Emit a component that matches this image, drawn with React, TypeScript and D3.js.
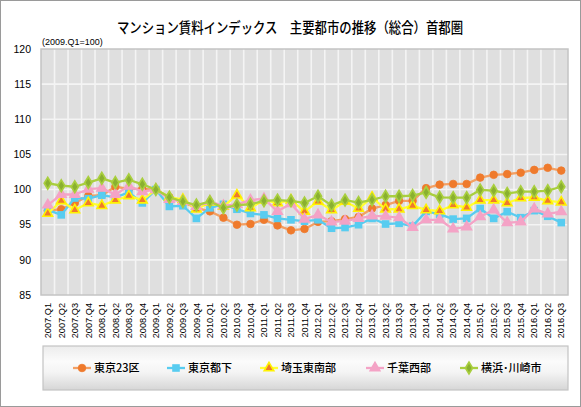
import React from "react";
import * as d3 from "d3";

const categories = [
  "2007.Q1","2007.Q2","2007.Q3","2007.Q4","2008.Q1","2008.Q2","2008.Q3","2008.Q4",
  "2009.Q1","2009.Q2","2009.Q3","2009.Q4","2010.Q1","2010.Q2","2010.Q3","2010.Q4",
  "2011.Q1","2011.Q2","2011.Q3","2011.Q4","2012.Q1","2012.Q2","2012.Q3","2012.Q4",
  "2013.Q1","2013.Q2","2013.Q3","2013.Q4","2014.Q1","2014.Q2","2014.Q3","2014.Q4",
  "2015.Q1","2015.Q2","2015.Q3","2015.Q4","2016.Q1","2016.Q2","2016.Q3",
];

const tokyo23 = [97.0,97.2,98.1,99.1,99.2,100.4,100.1,100.1,100.0,98.9,98.2,97.4,96.9,96.0,95.0,95.1,95.7,94.9,94.2,94.4,95.4,95.5,95.8,96.1,97.3,97.8,98.4,98.4,100.2,100.7,100.8,100.8,101.7,102.1,102.2,102.4,102.8,103.1,102.7];
const tokyoSuburbs = [97.1,96.4,98.8,98.7,99.2,98.9,99.6,98.1,100.0,97.6,97.7,95.9,97.4,97.9,97.2,96.6,96.4,95.9,95.7,95.5,95.7,94.5,94.6,95.0,95.9,95.1,95.2,94.8,96.9,96.5,95.8,95.9,97.3,95.9,96.85,96.0,97.0,96.2,95.3];
const saitama = [96.6,98.4,97.1,98.1,97.7,98.5,99.1,98.5,100.0,98.9,98.6,97.2,98.2,97.6,99.2,97.4,98.5,98.1,98.5,96.9,98.3,97.1,98.3,97.3,98.9,97.2,97.2,97.7,97.1,96.95,97.8,97.45,98.5,98.5,98.1,98.8,98.9,98.4,98.2];
const chiba = [97.8,99.3,99.3,100.05,100.2,99.3,100.5,99.7,100.0,98.6,98.3,97.6,98.3,97.7,97.9,98.5,98.7,96.9,98.0,95.8,96.4,95.4,95.5,95.9,96.25,96.2,96.0,94.6,95.7,95.7,94.4,94.7,96.15,97.1,95.3,95.4,97.25,96.55,96.85];
const yokohama = [100.9,100.55,100.4,101.0,101.6,101.0,101.4,100.75,100.0,98.9,98.3,97.8,98.3,97.4,97.8,97.9,98.4,98.5,98.4,98.1,99.05,97.75,98.5,98.15,98.55,99.05,99.05,99.15,99.6,98.9,98.85,98.85,99.95,99.85,99.45,99.7,99.7,99.85,100.4];

const yTicks = [85, 90, 95, 100, 105, 110, 115, 120];

const seriesNames = ["東京23区", "東京都下", "埼玉東南部", "千葉西部", "横浜･川崎市"];

type Series = {
  name: string;
  values: number[];
  line: string;
  fill: string;
  stroke: string;
  marker: "circle" | "square" | "triangle" | "diamond";
};

const series: Series[] = [
  { name: seriesNames[0], values: tokyo23, line: "#F3A064", fill: "#EF7A2C", stroke: "#EF7A2C", marker: "circle" },
  { name: seriesNames[1], values: tokyoSuburbs, line: "#58CCF0", fill: "#58CCF0", stroke: "#58CCF0", marker: "square" },
  { name: seriesNames[2], values: saitama, line: "#FFFF33", fill: "#EF7A2C", stroke: "#FFF200", marker: "triangle" },
  { name: seriesNames[3], values: chiba, line: "#F4A3C6", fill: "#F4A3C6", stroke: "#F4A3C6", marker: "triangle" },
  { name: seriesNames[4], values: yokohama, line: "#A9CF3E", fill: "#8AB030", stroke: "#A9CF3E", marker: "diamond" },
];

const legendX = [73, 167, 260, 366, 460];

const W = 581, H = 407;
const plot = { left: 41, right: 568, top: 49, bottom: 295 };

const x = d3.scaleBand<string>().domain(categories).range([plot.left, plot.right]).padding(0);
const y = d3.scaleLinear().domain([85, 120]).range([plot.bottom, plot.top]);
const cx = (c: string) => (x(c) as number) + x.bandwidth() / 2;

function Marker({ s, px, py }: { s: Series; px: number; py: number }) {
  if (s.marker === "circle") {
    return <circle cx={px} cy={py} r={3.8} fill={s.fill} stroke={s.stroke} strokeWidth={0.8} />;
  }
  if (s.marker === "square") {
    return <rect x={px - 3.8} y={py - 3.8} width={7.6} height={7.6} fill={s.fill} />;
  }
  if (s.marker === "triangle") {
    const p = d3.symbol(d3.symbolTriangle, 40)();
    return <path d={p as string} transform={`translate(${px},${py})`} fill={s.fill} stroke={s.stroke} strokeWidth={1.6} />;
  }
  const p = d3.symbol(d3.symbolDiamond, 40)();
  return <path d={p as string} transform={`translate(${px},${py}) scale(1.05,1)`} fill={s.fill} stroke={s.stroke} strokeWidth={1.6} />;
}

export default function App() {
  const line = d3
    .line<number>()
    .x((_, i) => cx(categories[i]))
    .y((v) => y(v));

  const boundaries = categories.slice(1).map((c) => x(c) as number);

  return (
    <div style={{ position: "absolute", left: 0, top: 0 }}>
      <svg width={W} height={H} style={{ display: "block" }} fontFamily="'Liberation Sans', Arial, sans-serif">
        <defs>
          <linearGradient id="lg" x1="0" y1="0" x2="0" y2="1">
            <stop offset="0" stopColor="#ececec" />
            <stop offset="0.35" stopColor="#fbfbfb" />
            <stop offset="0.6" stopColor="#f4f4f4" />
            <stop offset="1" stopColor="#d6d6d6" />
          </linearGradient>
        </defs>
        <rect x={0} y={0} width={W} height={H} fill="#ffffff" />
        <rect x={0.5} y={0.5} width={W - 1} height={H - 1} fill="none" stroke="#9a9a9a" strokeWidth={1} />

        <text x={290} y={33} textAnchor="middle" fontSize={14.5} fontWeight={500} fontFamily="'Noto Sans CJK JP', sans-serif" fill="#000" textLength={346} lengthAdjust="spacingAndGlyphs">
          マンション賃料インデックス　主要都市の推移（総合）首都圏
        </text>

        <text x={42} y={45} fontSize={9} fill="#000">(2009.Q1=100)</text>

        <rect x={plot.left} y={plot.top} width={plot.right - plot.left} height={plot.bottom - plot.top} fill="#dfdfdf" />
        {yTicks.filter((t) => t > 85 && t < 120).map((t) => (
          <line key={t} x1={plot.left} x2={plot.right} y1={y(t)} y2={y(t)} stroke="#f4f4f4" strokeWidth={1.6} />
        ))}
        {boundaries.map((b, i) => (
          <line key={i} x1={b} x2={b} y1={plot.top} y2={plot.bottom} stroke="#f4f4f4" strokeWidth={1.6} />
        ))}
        <rect x={plot.left} y={plot.top} width={plot.right - plot.left} height={plot.bottom - plot.top} fill="none" stroke="#c4c4c4" strokeWidth={1.5} />

        {yTicks.map((t) => (
          <text key={t} x={31} y={y(t)} dy="0.35em" textAnchor="end" fontSize={10.5} fill="#000">{t}</text>
        ))}

        {categories.map((c) => (
          <text key={c} transform={`translate(${cx(c)},${plot.bottom + 8}) rotate(-90)`} dy="0.35em" textAnchor="end" fontSize={9.2} fill="#000">{c}</text>
        ))}

        {series.map((s) => (
          <g key={s.name}>
            <path d={line(s.values) as string} fill="none" stroke={s.line} strokeWidth={2.3} strokeLinejoin="round" />
            {s.values.map((v, i) => (
              <Marker key={i} s={s} px={cx(categories[i])} py={y(v)} />
            ))}
          </g>
        ))}

        <rect x={43} y={346} width={525} height={44} fill="url(#lg)" stroke="#c4c4c4" strokeWidth={1.2} />
        {series.map((s, i) => (
          <g key={s.name}>
            <line x1={legendX[i]} x2={legendX[i] + 18} y1={368} y2={368} stroke={s.line} strokeWidth={2.3} />
            <Marker s={s} px={legendX[i] + 9} py={368} />
            <text x={legendX[i] + 21} y={368} dy="0.35em" fontSize={11} fontWeight={500} fontFamily="'Noto Sans CJK JP', sans-serif" fill="#000">{s.name}</text>
          </g>
        ))}
      </svg>
    </div>
  );
}
